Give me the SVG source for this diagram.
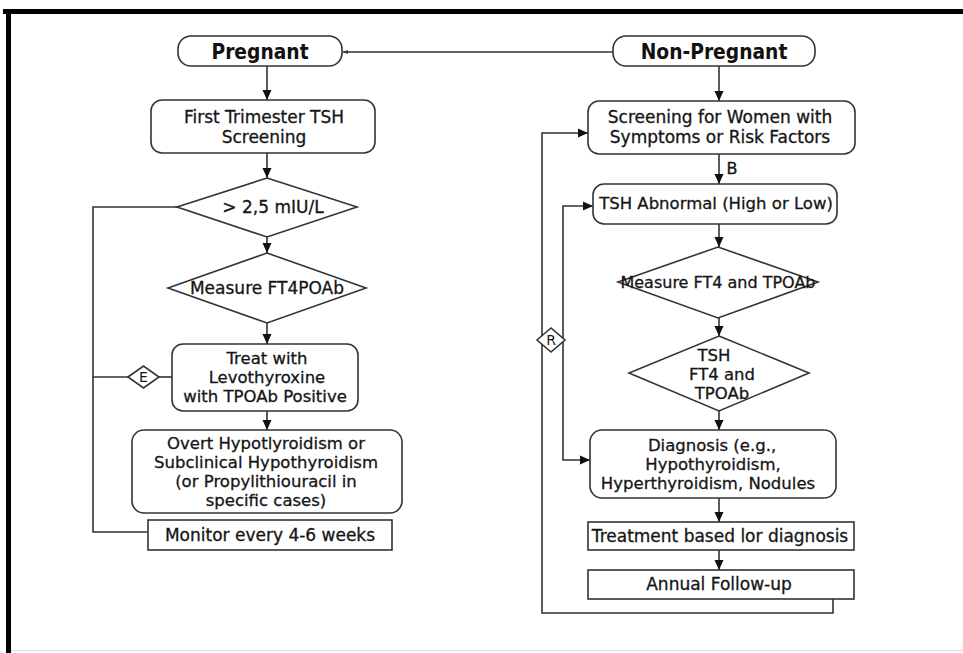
<svg xmlns="http://www.w3.org/2000/svg" width="963" height="653" viewBox="0 0 963 653">
<style>
.box{fill:#fff;stroke:#333;stroke-width:1.6}
.ln{fill:none;stroke:#333;stroke-width:1.6}
.t{font-family:"DejaVu Sans",sans-serif;font-size:17px;fill:#151515;stroke:#151515;stroke-width:0.3;text-anchor:middle}
.m{font-size:16.5px}
.h{font-family:"DejaVu Sans",sans-serif;font-size:22px;font-weight:bold;fill:#111;text-anchor:middle}
.s{font-family:"DejaVu Sans",sans-serif;font-size:14px;fill:#151515;text-anchor:middle}
</style>
<defs>
<marker id="ah" markerUnits="userSpaceOnUse" markerWidth="11" markerHeight="10" refX="10" refY="5" orient="auto-start-reverse"><path d="M0,0.5 L10,5 L0,9.5 z" fill="#111"/></marker>
<marker id="ahs" markerUnits="userSpaceOnUse" markerWidth="6" markerHeight="5" refX="5" refY="2.5" orient="auto"><path d="M0,0.5 L5,2.5 L0,4.5 z" fill="#333"/></marker>
</defs>
<rect width="963" height="653" fill="#fff"/>
<g id="frame">
<rect x="3" y="9" width="960" height="5" fill="#000"/>
<rect x="6" y="9" width="5" height="644" fill="#000"/>
<line x1="11" y1="650.5" x2="963" y2="650.5" stroke="#e2e2e2" stroke-width="1.5"/>
</g>
<g id="connectors">
<line class="ln" x1="613" y1="52" x2="343" y2="52" marker-end="url(#ahs)"/>
<line class="ln" x1="267" y1="66" x2="267" y2="100" marker-end="url(#ah)"/>
<line class="ln" x1="267" y1="153" x2="267" y2="178" marker-end="url(#ah)"/>
<line class="ln" x1="267" y1="237" x2="267" y2="253" marker-end="url(#ah)"/>
<line class="ln" x1="267" y1="323" x2="267" y2="344" marker-end="url(#ah)"/>
<line class="ln" x1="267" y1="411" x2="267" y2="430" marker-end="url(#ah)"/>
<polyline class="ln" points="177,207 93,207 93,532 148,532"/>
<line class="ln" x1="93" y1="377" x2="128" y2="377"/>
<line class="ln" x1="159" y1="377" x2="172" y2="377"/>
<line class="ln" x1="719" y1="66" x2="719" y2="101" marker-end="url(#ah)"/>
<line class="ln" x1="719" y1="154" x2="719" y2="184" marker-end="url(#ah)"/>
<text class="t" x="732" y="174" style="font-size:16px">B</text>
<line class="ln" x1="719" y1="224" x2="719" y2="247" marker-end="url(#ah)"/>
<line class="ln" x1="719" y1="318" x2="719" y2="336" marker-end="url(#ah)"/>
<line class="ln" x1="719" y1="411" x2="719" y2="430" marker-end="url(#ah)"/>
<line class="ln" x1="719" y1="498" x2="719" y2="522" marker-end="url(#ah)"/>
<line class="ln" x1="719" y1="550" x2="719" y2="570" marker-end="url(#ah)"/>
<polyline class="ln" points="833,599 833,613 542,613 542,133 588,133" marker-end="url(#ah)"/>
<polyline class="ln" points="593,206 563,206 563,460 590,460" marker-start="url(#ah)" marker-end="url(#ah)"/>
</g>
<g id="pregnant">
<rect class="box" x="178" y="36" width="164" height="30" rx="13"/>
<text class="h" transform="translate(260,59) scale(0.85,1)">Pregnant</text>
</g>
<g id="non-pregnant">
<rect class="box" x="613" y="36" width="202" height="30" rx="13"/>
<text class="h" transform="translate(714,59) scale(0.85,1)">Non-Pregnant</text>
</g>
<g id="first-trimester">
<rect class="box" x="151" y="100" width="224" height="53" rx="11"/>
<text class="t" x="264" y="123">First Trimester TSH</text>
<text class="t" x="264" y="143">Screening</text>
</g>
<g id="tsh-threshold">
<polygon class="box" points="267,178 357,207 267,237 177,207"/>
<text class="t" x="273" y="213">&gt; 2,5 mIU/L</text>
</g>
<g id="measure-ft4poab">
<polygon class="box" points="267,253 366,288 267,323 168,288"/>
<text class="t" x="267" y="294">Measure FT4POAb</text>
</g>
<g id="treat">
<rect class="box" x="172" y="344" width="186" height="67" rx="11"/>
<text class="t m" x="267" y="364">Treat with</text>
<text class="t m" x="267" y="383">Levothyroxine</text>
<text class="t m" x="265" y="402">with TPOAb Positive</text>
</g>
<g id="e-marker">
<polygon class="box" points="128,377 143.5,366 159,377 143.5,388"/>
<text class="s" x="143.5" y="382">E</text>
</g>
<g id="overt">
<rect class="box" x="132" y="430" width="270" height="83" rx="12"/>
<text class="t m" x="266" y="449">Overt Hypotlyroidism or</text>
<text class="t m" x="266" y="468">Subclinical Hypothyroidism</text>
<text class="t m" x="266" y="487">(or Propylithiouracil in</text>
<text class="t m" x="266" y="506">specific cases)</text>
</g>
<g id="monitor">
<rect class="box" x="148" y="520" width="244" height="30"/>
<text class="t" x="270" y="541">Monitor every 4-6 weeks</text>
</g>
<g id="screening">
<rect class="box" x="588" y="101" width="267" height="53" rx="11"/>
<text class="t" x="720" y="123">Screening for Women with</text>
<text class="t" x="720" y="143">Symptoms or Risk Factors</text>
</g>
<g id="tsh-abnormal">
<rect class="box" x="593" y="184" width="244" height="40" rx="11"/>
<text class="t" x="716" y="209" style="font-size:16.5px">TSH Abnormal (High or Low)</text>
</g>
<g id="measure-ft4-tpoab">
<polygon class="box" points="718,247 818,282 718,318 618,282"/>
<text class="t" x="718" y="288" style="font-size:16px">Measure FT4 and TPOAb</text>
</g>
<g id="tsh-ft4-tpoab">
<polygon class="box" points="719,336 809,373 719,411 629,373"/>
<text class="t m" x="714" y="361">TSH</text>
<text class="t m" x="722" y="380">FT4 and</text>
<text class="t m" x="722" y="399">TPOAb</text>
</g>
<g id="diagnosis">
<rect class="box" x="590" y="430" width="246" height="68" rx="12"/>
<text class="t m" x="712" y="451">Diagnosis (e.g.,</text>
<text class="t m" x="713" y="470">Hypothyroidism,</text>
<text class="t m" x="708" y="489">Hyperthyroidism, Nodules</text>
</g>
<g id="treatment">
<rect class="box" x="588" y="522" width="266" height="28"/>
<text class="t" x="720" y="542">Treatment based lor diagnosis</text>
</g>
<g id="annual">
<rect class="box" x="588" y="570" width="266" height="29"/>
<text class="t" x="719" y="590">Annual Follow-up</text>
</g>
<g id="r-marker">
<polygon class="box" points="537,340 551,328 565,340 551,352"/>
<text class="s" x="551" y="345">R</text>
</g>
</svg>
